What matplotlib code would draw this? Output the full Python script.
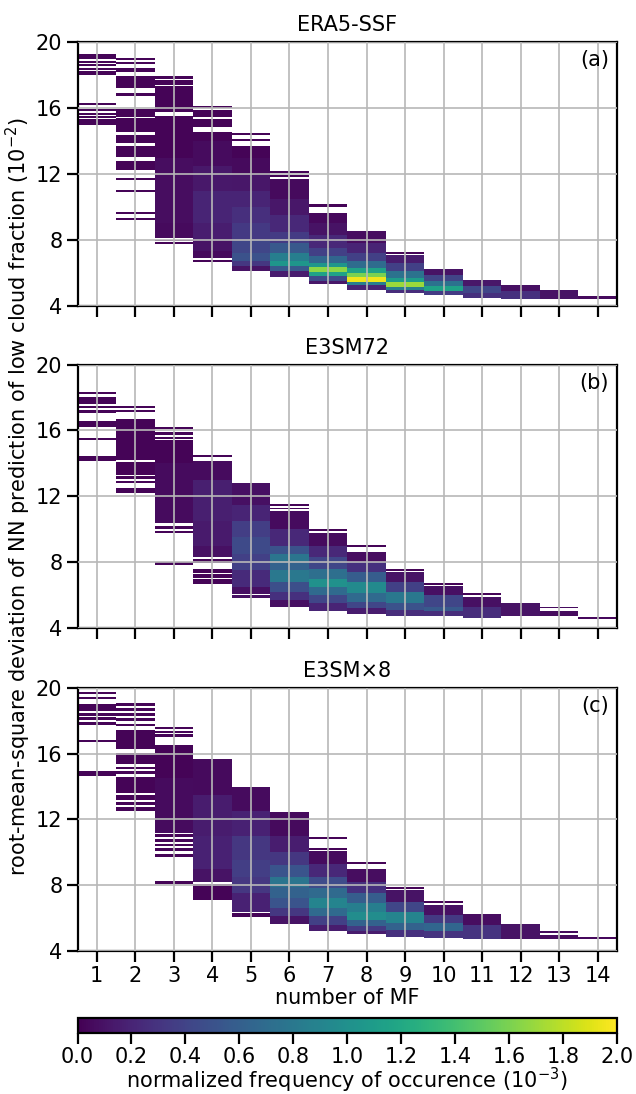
import numpy as np
import matplotlib.pyplot as plt

# ---- data (y in units of 1e-2) ----
n_mf = np.arange(1, 15)
titles = ['ERA5-SSF', 'E3SM72', 'E3SM×8']
tags = ['(a)', '(b)', '(c)']
base_val = 0.02   # colour of the sparse dark cells

# occupied y ranges of each column
spans_a = [
    [(19.0, 19.3), (18.78, 18.9), (18.54, 18.7), (18.33, 18.41), (18.0, 18.25),
     (16.2, 16.34), (15.82, 15.94), (15.61, 15.74), (15.41, 15.53), (14.99, 15.33)],
    [(18.95, 19.05), (18.7, 18.82), (18.2, 18.45), (17.25, 17.95), (16.72, 16.9),
     (15.5, 15.94), (14.55, 15.42), (13.9, 14.35), (13.05, 13.68), (12.25, 12.8),
     (11.64, 11.74), (10.91, 11.03), (9.59, 9.71), (9.2, 9.35)],
    [(17.8, 17.93), (17.42, 17.73), (15.8, 17.36), (8.1, 15.55), (7.92, 8.02), (7.78, 7.88)],
    [(16.0, 16.14), (15.5, 15.9), (14.85, 15.33), (6.9, 14.58), (6.63, 6.77)],
    [(14.38, 14.52), (14.0, 14.15), (6.12, 13.67)],
    [(12.08, 12.2), (11.8, 11.94), (5.72, 11.68)],
    [(10.02, 10.16), (5.31, 9.65)],
    [(4.95, 8.54)],
    [(7.14, 7.26), (4.78, 7.08)],
    [(4.64, 6.24)],
    [(4.5, 5.55)],
    [(4.42, 5.25)],
    [(4.42, 4.95)],
    [(4.42, 4.58)],
]
spans_b = [
    [(18.23, 18.36), (17.62, 18.05), (17.36, 17.48), (17.08, 17.22), (16.18, 16.55),
     (15.41, 15.53), (14.15, 14.44)],
    [(17.38, 17.5), (17.12, 17.24), (14.2, 16.7), (13.3, 14.05), (13.08, 13.22),
     (12.77, 12.91), (12.22, 12.5)],
    [(16.1, 16.2), (15.74, 15.9), (15.49, 15.6), (10.35, 15.39), (10.0, 10.22),
     (9.73, 9.87), (7.84, 7.98)],
    [(14.35, 14.5), (8.3, 14.15), (7.95, 8.15), (7.35, 7.6), (7.05, 7.28), (6.65, 6.95)],
    [(6.08, 12.81), (5.81, 5.98)],
    [(11.39, 11.53), (11.19, 11.29), (5.3, 11.09)],
    [(9.87, 10.01), (5.0, 9.77)],
    [(8.89, 9.01), (4.85, 8.59)],
    [(7.45, 7.57), (4.73, 7.37)],
    [(6.6, 6.72), (4.73, 6.52)],
    [(6.0, 6.12), (4.6, 5.9)],
    [(4.7, 5.5)],
    [(5.2, 5.3), (4.7, 5.0)],
    [(4.53, 4.65)],
]
spans_c = [
    [(19.62, 19.76), (19.31, 19.45), (18.6, 18.97), (18.3, 18.44), (18.03, 18.2),
     (17.73, 17.89), (16.67, 16.81), (14.64, 14.94)],
    [(18.9, 19.05), (18.6, 18.78), (18.3, 18.48), (17.95, 18.15), (17.65, 17.82),
     (16.25, 17.4), (15.35, 16.05), (15.05, 15.2), (14.75, 14.95), (13.6, 14.6),
     (13.2, 13.45), (12.85, 13.05), (12.5, 12.75)],
    [(17.48, 17.62), (17.22, 17.38), (16.97, 17.15), (11.18, 16.53), (10.92, 11.08),
     (10.6, 10.8), (10.35, 10.5), (10.05, 10.25), (9.7, 9.9), (8.09, 8.24)],
    [(8.2, 15.65), (7.1, 8.1)],
    [(6.4, 13.93), (6.04, 6.3)],
    [(5.63, 12.44)],
    [(10.78, 10.92), (10.12, 10.27), (5.23, 10.06)],
    [(9.29, 9.41), (5.02, 8.95)],
    [(7.75, 7.87), (4.88, 7.67)],
    [(6.91, 7.05), (4.82, 6.8)],
    [(4.74, 6.24)],
    [(4.74, 5.63)],
    [(5.11, 5.23), (4.74, 4.98)],
    [(4.72, 4.84)],
]

# frequency bands (y_lo, y_hi, value in 1e-3) inside each column
bands_a = [
    [], [],
    [(9.0, 13.0, 0.07), (8.1, 9.0, 0.05)],
    [(12.5, 14.0, 0.06), (11.0, 12.5, 0.13), (9.0, 11.0, 0.2), (8.0, 9.0, 0.16),
     (7.3, 8.0, 0.1), (6.9, 7.3, 0.05)],
    [(12.0, 13.0, 0.05), (11.0, 12.0, 0.12), (10.0, 11.0, 0.2), (9.0, 10.0, 0.27),
     (8.0, 9.0, 0.33), (7.2, 8.0, 0.42), (6.7, 7.2, 0.5), (6.4, 6.7, 0.32), (6.12, 6.4, 0.1)],
    [(10.5, 11.68, 0.05), (9.5, 10.5, 0.12), (8.5, 9.5, 0.22), (7.8, 8.5, 0.35),
     (7.2, 7.8, 0.55), (6.7, 7.2, 0.85), (6.4, 6.7, 1.05), (6.1, 6.4, 0.55), (5.72, 6.1, 0.15)],
    [(9.0, 9.65, 0.04), (8.3, 9.0, 0.1), (7.5, 8.3, 0.22), (7.0, 7.5, 0.38),
     (6.6, 7.0, 0.65), (6.35, 6.6, 1.05), (6.05, 6.35, 1.65), (5.8, 6.05, 1.15),
     (5.5, 5.8, 0.45), (5.31, 5.5, 0.12)],
    [(7.8, 8.54, 0.07), (7.2, 7.8, 0.2), (6.7, 7.2, 0.38), (6.3, 6.7, 0.7),
     (6.0, 6.3, 1.15), (5.75, 6.0, 1.6), (5.45, 5.75, 1.95), (5.25, 5.45, 0.85), (4.95, 5.25, 0.2)],
    [(6.6, 7.08, 0.15), (6.1, 6.6, 0.38), (5.7, 6.1, 0.75), (5.45, 5.7, 1.1),
     (5.15, 5.45, 1.7), (4.95, 5.15, 0.85), (4.78, 4.95, 0.25)],
    [(5.9, 6.24, 0.1), (5.5, 5.9, 0.4), (5.2, 5.5, 0.75), (4.9, 5.2, 1.15), (4.64, 4.9, 0.35)],
    [(5.2, 5.55, 0.12), (4.8, 5.2, 0.42), (4.5, 4.8, 0.28)],
    [(4.9, 5.25, 0.08), (4.42, 4.9, 0.28)],
    [(4.42, 4.95, 0.1)],
    [(4.42, 4.58, 0.05)],
]
bands_b = [
    [], [],
    [(10.35, 14.0, 0.06)],
    [(13.0, 14.15, 0.06), (10.5, 13.0, 0.17), (9.0, 10.5, 0.14), (8.3, 9.0, 0.08)],
    [(11.5, 12.81, 0.08), (10.5, 11.5, 0.2), (9.5, 10.5, 0.36), (8.5, 9.5, 0.45),
     (7.5, 8.5, 0.38), (6.5, 7.5, 0.24), (5.81, 6.5, 0.08)],
    [(10.0, 11.09, 0.06), (9.0, 10.0, 0.22), (8.5, 9.0, 0.5), (8.0, 8.5, 0.78),
     (7.5, 8.0, 0.62), (6.8, 7.5, 0.8), (6.2, 6.8, 0.48), (5.7, 6.2, 0.28), (5.3, 5.7, 0.08)],
    [(9.0, 9.77, 0.06), (8.3, 9.0, 0.22), (7.6, 8.3, 0.42), (7.0, 7.6, 0.72),
     (6.5, 7.0, 1.0), (6.0, 6.5, 0.68), (5.5, 6.0, 0.42), (5.0, 5.5, 0.2)],
    [(8.0, 8.59, 0.07), (7.4, 8.0, 0.28), (6.8, 7.4, 0.58), (6.1, 6.8, 0.95),
     (5.6, 6.1, 0.68), (5.2, 5.6, 0.42), (4.85, 5.2, 0.15)],
    [(6.8, 7.37, 0.1), (6.2, 6.8, 0.38), (5.5, 6.2, 0.8), (5.1, 5.5, 0.5), (4.73, 5.1, 0.25)],
    [(6.0, 6.52, 0.08), (5.3, 6.0, 0.42), (5.0, 5.3, 0.55), (4.73, 5.0, 0.25)],
    [(5.3, 5.9, 0.08), (4.6, 5.3, 0.25)],
    [(4.7, 5.5, 0.1)],
    [(4.7, 5.3, 0.06)],
    [(4.53, 4.65, 0.04)],
]
bands_c = [
    [], [],
    [(11.18, 14.5, 0.06)],
    [(13.5, 15.65, 0.05), (11.0, 13.5, 0.15), (9.0, 11.0, 0.18), (8.2, 9.0, 0.1)],
    [(12.5, 13.93, 0.06), (11.0, 12.5, 0.18), (9.5, 11.0, 0.32), (8.5, 9.5, 0.36),
     (7.5, 8.5, 0.32), (6.4, 7.5, 0.18)],
    [(11.0, 12.44, 0.05), (10.0, 11.0, 0.16), (9.2, 10.0, 0.32), (8.5, 9.2, 0.52),
     (7.9, 8.5, 0.78), (7.2, 7.9, 0.62), (6.6, 7.2, 0.52), (6.1, 6.6, 0.32), (5.63, 6.1, 0.1)],
    [(9.3, 10.06, 0.06), (8.5, 9.3, 0.22), (7.8, 8.5, 0.46), (7.2, 7.8, 0.68),
     (6.6, 7.2, 0.9), (6.1, 6.6, 0.68), (5.6, 6.1, 0.38), (5.23, 5.6, 0.15)],
    [(8.2, 8.95, 0.07), (7.5, 8.2, 0.28), (6.9, 7.5, 0.58), (6.4, 6.9, 0.85),
     (5.9, 6.4, 0.97), (5.5, 5.9, 0.62), (5.2, 5.5, 0.34), (5.02, 5.2, 0.15)],
    [(7.0, 7.67, 0.1), (6.4, 7.0, 0.42), (5.7, 6.4, 0.9), (5.3, 5.7, 0.62), (4.88, 5.3, 0.28)],
    [(6.2, 6.8, 0.08), (5.7, 6.2, 0.34), (5.2, 5.7, 0.65), (4.82, 5.2, 0.3)],
    [(5.6, 6.24, 0.07), (4.74, 5.6, 0.3)],
    [(4.74, 5.63, 0.1)],
    [(4.74, 5.23, 0.06)],
    [(4.72, 4.84, 0.04)],
]

all_spans = [spans_a, spans_b, spans_c]
all_bands = [bands_a, bands_b, bands_c]

# ---- build histogram grids ----
y_edges = np.arange(4.0, 20.0001, 0.02)
y_mid = 0.5 * (y_edges[1:] + y_edges[:-1])
x_edges = np.arange(0.5, 15.0, 1.0)


def make_grid(spans, bands):
    z = np.full((len(y_mid), len(n_mf)), np.nan)
    for j in range(len(n_mf)):
        col = np.full(len(y_mid), np.nan)
        inside = np.zeros(len(y_mid), bool)
        for lo, hi in spans[j]:
            inside |= (y_mid >= lo) & (y_mid < hi)
        col[inside] = base_val
        for lo, hi, v in bands[j]:
            sel = inside & (y_mid >= lo) & (y_mid < hi)
            col[sel] = v
        z[:, j] = col
    return np.ma.masked_invalid(z)


fs = 15
plt.rcParams['font.size'] = fs

fig = plt.figure(figsize=(6.36, 10.94), dpi=100)
lefts = 0.1219
width = 0.8482
bottoms = [0.7205, 0.4260, 0.1307]
height = 0.2407

for k in range(3):
    ax = fig.add_axes([lefts, bottoms[k], width, height])
    z = make_grid(all_spans[k], all_bands[k])
    mesh = ax.pcolormesh(x_edges, y_edges, z, cmap='viridis', vmin=0, vmax=2)
    ax.set_xlim(0.5, 14.5)
    ax.set_ylim(4, 20)
    ax.set_xticks(n_mf)
    ax.set_yticks([4, 8, 12, 16, 20])
    ax.grid(True, color='#b8b8b8', linewidth=1.2)
    ax.set_axisbelow(False)
    ax.tick_params(length=8, width=1.6, labelsize=fs, pad=3)
    for s in ax.spines.values():
        s.set_linewidth(1.6)
    ax.set_title(titles[k], fontsize=fs, pad=8)
    ax.text(0.985, 0.97, tags[k], transform=ax.transAxes, ha='right', va='top', fontsize=fs)
    if k < 2:
        ax.set_xticklabels([])
    else:
        ax.set_xlabel('number of MF', fontsize=fs, labelpad=1)

fig.text(0.029, 0.546, 'root-mean-square deviation of NN prediction of low cloud fraction ($10^{-2}$)',
         rotation=90, ha='center', va='center', fontsize=fs)

cax = fig.add_axes([lefts, 0.0555, width, 0.0137])
cb = fig.colorbar(mesh, cax=cax, orientation='horizontal', ticks=np.arange(0, 2.01, 0.2))
cb.set_label('normalized frequency of occurence ($10^{-3}$)', fontsize=fs, labelpad=-1)
cb.ax.tick_params(length=8, width=1.6, labelsize=fs, pad=2)
cb.outline.set_linewidth(1.6)

fig.savefig('out.png', dpi=100)
